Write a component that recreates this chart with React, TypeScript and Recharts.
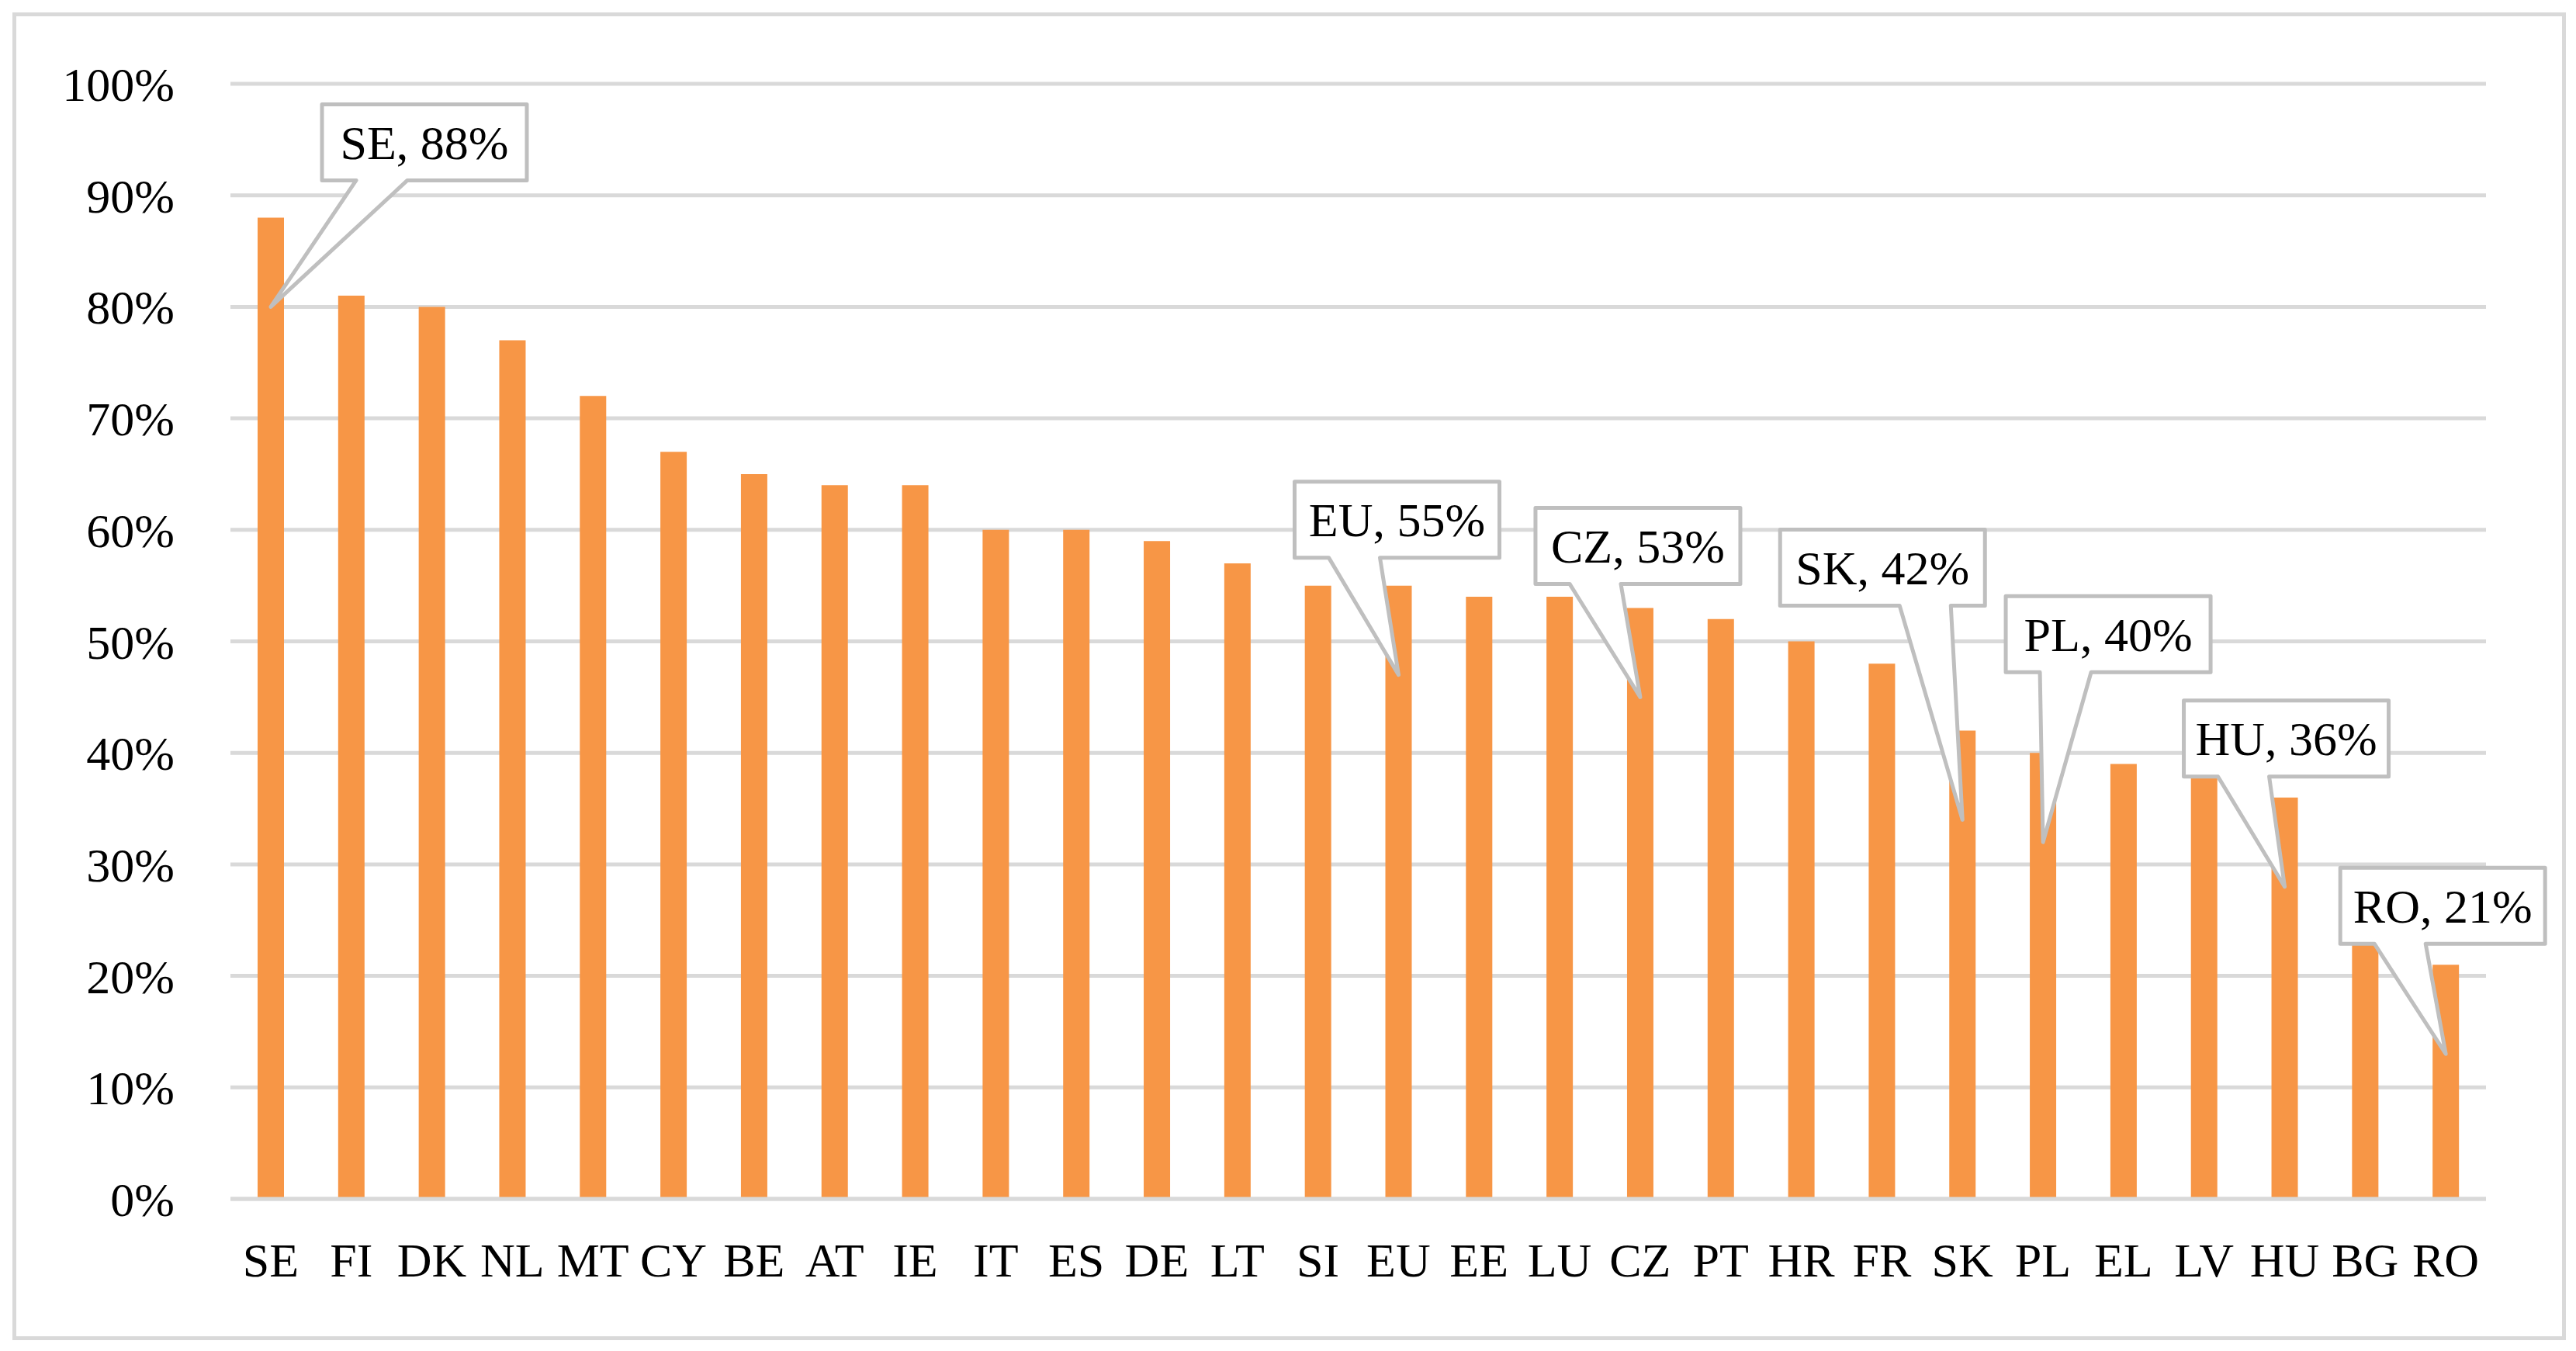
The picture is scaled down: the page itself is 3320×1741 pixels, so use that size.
import { BarChart, Bar, XAxis, YAxis, CartesianGrid, LabelList } from "recharts"

const countries = [
  "SE", "FI", "DK", "NL", "MT", "CY", "BE", "AT", "IE", "IT", "ES", "DE", "LT", "SI",
  "EU", "EE", "LU", "CZ", "PT", "HR", "FR", "SK", "PL", "EL", "LV", "HU", "BG", "RO",
]
const shares = [
  88, 81, 80, 77, 72, 67, 65, 64, 64, 60, 60, 59, 57, 55,
  55, 54, 54, 53, 52, 50, 48, 42, 40, 39, 38, 36, 23, 21,
]
const yTicks = [0, 10, 20, 30, 40, 50, 60, 70, 80, 90, 100]
const highlighted = ["SE", "EU", "CZ", "SK", "PL", "HU", "RO"]

const data = countries.map((name, i) => ({ name, value: shares[i] }))

const FONT = "'Liberation Serif', 'Times New Roman', serif"
const W = 3320
const H = 1741

// where each callout box sits, centre relative to the top of its bar
const calloutOffset: Record<string, [number, number]> = {
  SE: [198, -97],
  EU: [-2, -85],
  CZ: [-3, -80],
  SK: [-103, -210],
  PL: [84, -153],
  HU: [2, -76],
  RO: [-4, -76],
}

const BOX_W = 264
const BOX_H = 98
const TIP_DROP = 115

function Callout(props: any) {
  const { x, y, width, index } = props
  const row = data[index]
  if (!row || !highlighted.includes(row.name)) return null
  const [dx, dy] = calloutOffset[row.name]
  const cx = x + width / 2
  const tipX = cx
  const tipY = y + TIP_DROP
  const bx = cx + dx
  const by = y + dy
  const L = bx - BOX_W / 2
  const R = bx + BOX_W / 2
  const T = by - BOX_H / 2
  const B = by + BOX_H / 2
  // wedge base goes on the left unless the tip is well to the right
  const left = tipX < bx + BOX_W / 4
  const b1 = left ? L + BOX_W / 6 : L + (BOX_W * 7) / 12
  const b2 = left ? L + (BOX_W * 5) / 12 : L + (BOX_W * 5) / 6
  const d = `M${L},${T} H${R} V${B} H${b2} L${tipX},${tipY} L${b1},${B} H${L} Z`
  return (
    <g>
      <path d={d} fill="#fff" stroke="#bfbfbf" strokeWidth={5} strokeLinejoin="round" />
      <text
        x={bx}
        y={by}
        dy="0.35em"
        textAnchor="middle"
        fontFamily={FONT}
        fontSize={62}
        fill="#000"
      >
        {`${row.name}, ${row.value}%`}
      </text>
    </g>
  )
}

export default function App() {
  return (
    <div style={{ position: "absolute", left: 0, top: 0, width: W, height: H, background: "#fff" }}>
      <div
        style={{
          position: "absolute",
          left: 16,
          top: 16,
          width: 3291,
          height: 1711,
          boxSizing: "border-box",
          border: "5px solid #d9d9d9",
        }}
      />
      <div style={{ position: "absolute", left: 0, top: 0 }}>
        <BarChart
          width={W}
          height={H}
          data={data}
          margin={{ top: 108, right: 116, left: 47, bottom: 96 }}
          barCategoryGap={0}
        >
          <CartesianGrid vertical={false} stroke="#d9d9d9" strokeWidth={5} />
          <XAxis
            dataKey="name"
            interval={0}
            height={100}
            tickLine={false}
            tickSize={0}
            tickMargin={56}
            axisLine={{ stroke: "#d9d9d9", strokeWidth: 5 }}
            tick={{ fill: "#000", fontSize: 62, fontFamily: FONT }}
          />
          <YAxis
            domain={[0, 100]}
            ticks={yTicks}
            width={250}
            axisLine={false}
            tickLine={false}
            tickSize={0}
            tickMargin={72}
            tickFormatter={(v: number) => `${v}%`}
            tick={{ fill: "#000", fontSize: 62, fontFamily: FONT }}
          />
          <Bar dataKey="value" fill="#F79646" barSize={34} isAnimationActive={false}>
            <LabelList dataKey="value" content={Callout} />
          </Bar>
        </BarChart>
      </div>
    </div>
  )
}
